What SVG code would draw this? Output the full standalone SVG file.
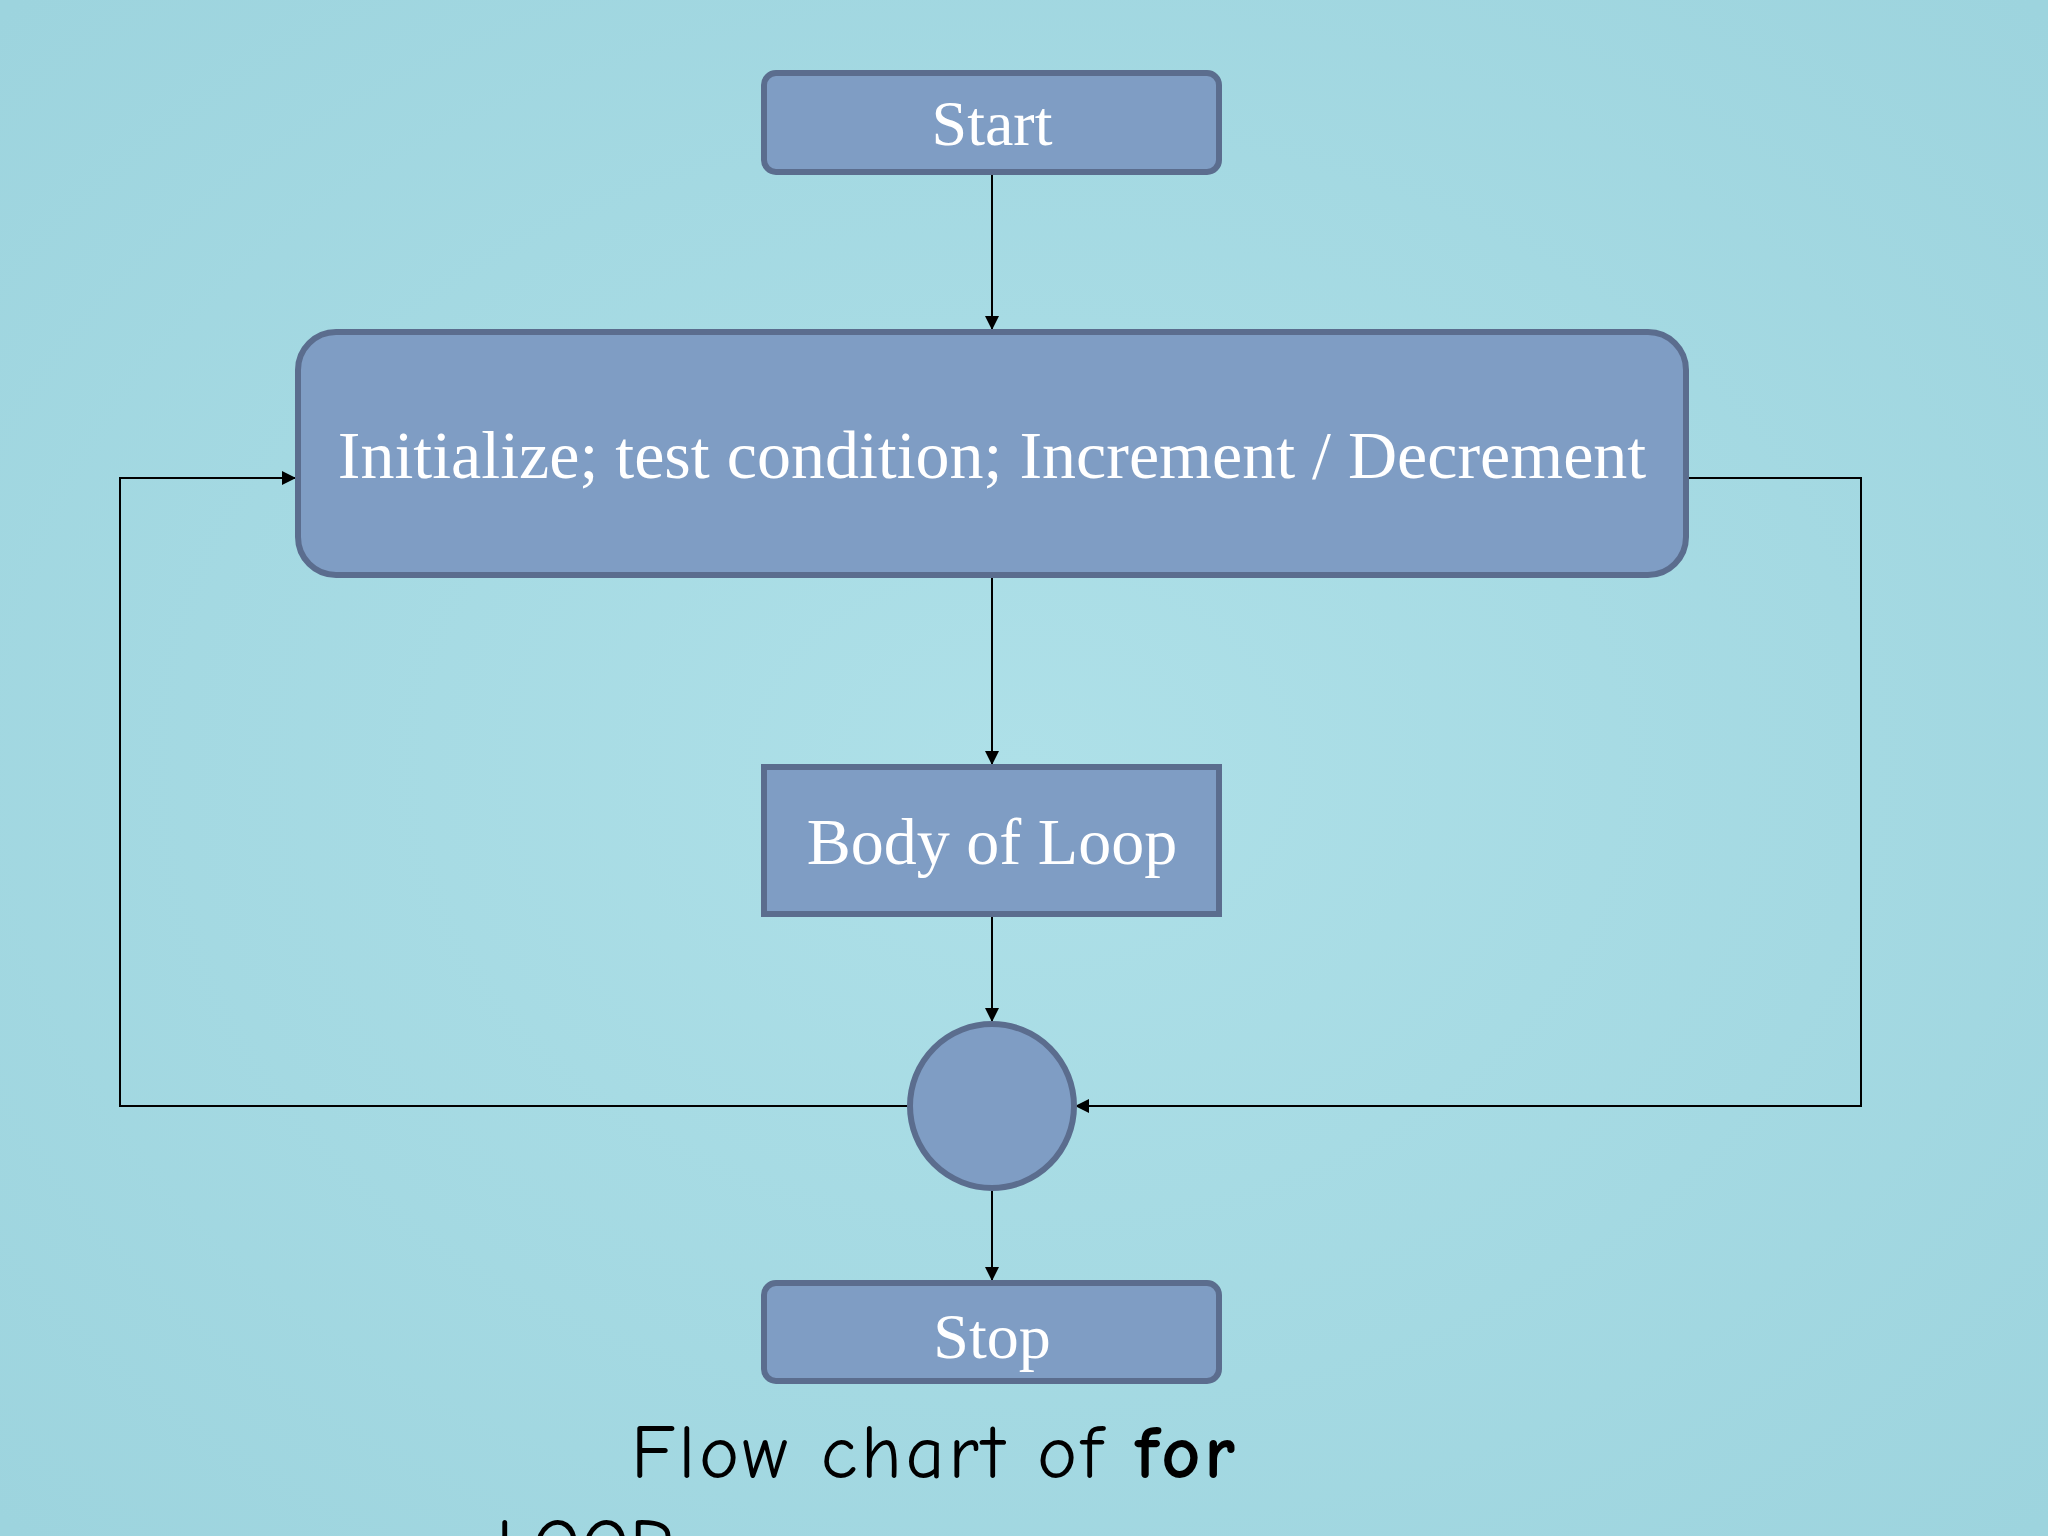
<svg xmlns="http://www.w3.org/2000/svg" width="2048" height="1536" viewBox="0 0 2048 1536">
<style>
.box{fill:#7f9dc4;stroke:#5b6d8e;stroke-width:6}
.t{fill:#fff;font-family:"Liberation Serif",serif;text-anchor:middle}
.c{fill:none;stroke:#000;stroke-width:2}
</style>
<defs>
<marker id="a" viewBox="0 0 10 10" refX="10" refY="5" markerWidth="14" markerHeight="14" markerUnits="userSpaceOnUse" orient="auto"><path d="M0,0L10,5L0,10z" fill="#000"/></marker>
<radialGradient id="bg" cx="50%" cy="50%" r="70%"><stop offset="0" stop-color="#aee0e8"/><stop offset="1" stop-color="#9dd4de"/></radialGradient>
</defs>
<rect width="2048" height="1536" fill="url(#bg)"/>
<g id="connectors">
<path class="c" d="M992,172V330" marker-end="url(#a)"/>
<path class="c" d="M992,575V765" marker-end="url(#a)"/>
<path class="c" d="M992,914V1022" marker-end="url(#a)"/>
<path class="c" d="M992,1188V1281" marker-end="url(#a)"/>
<path class="c" d="M909,1106H120V478H296" marker-end="url(#a)"/>
<path class="c" d="M1686,478H1861V1106H1075" marker-end="url(#a)"/>
</g>
<g id="start"><rect class="box" x="764" y="73" width="455" height="99" rx="12"/><text class="t" x="992" y="145" font-size="64">Start</text></g>
<g id="init"><rect class="box" x="298" y="332" width="1388" height="243" rx="38"/><text class="t" x="992" y="478" font-size="68">Initialize; test condition; Increment / Decrement</text></g>
<g id="body"><rect class="box" x="764" y="767" width="455" height="147"/><text class="t" x="992" y="864" font-size="66">Body of Loop</text></g>
<g id="join"><circle class="box" cx="992" cy="1106" r="82"/></g>
<g id="stop"><rect class="box" x="764" y="1283" width="455" height="98" rx="12"/><text class="t" x="992" y="1358" font-size="64">Stop</text></g>
<g id="caption" font-family="'Comic Neue','DejaVu Sans',sans-serif" font-size="76" fill="#000">
<text x="631" y="1478" textLength="604">Flow chart of <tspan font-weight="bold">for</tspan></text>
<text x="496" y="1572">LOOP</text>
</g>
</svg>
